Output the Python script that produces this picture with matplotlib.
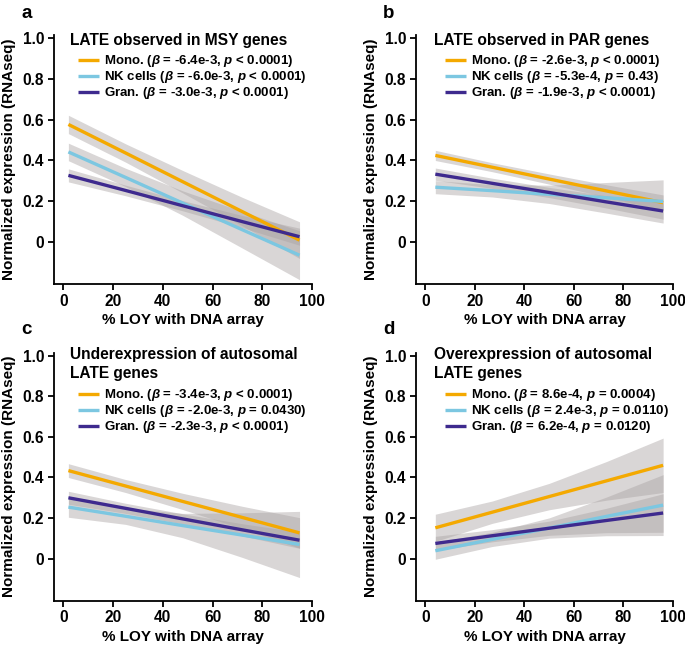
"""
LOY vs normalized expression of LATE genes (4 panels)
"""
# ------------------
# モジュールインポート
# ------------------
import numpy as np
import matplotlib
matplotlib.use("Agg")
from matplotlib import pylab as plt


# ------------------
# データ
# ------------------
# x positions where fit / band values were read (a, c use 2-95 ; b, d use 4-96)
x_ac = [2, 25, 48, 72, 95]
x_bd = [4, 27, 50, 73, 96]

# panel a : LATE observed in MSY genes
a_mono_fit = [0.576, 0.436, 0.295, 0.148, 0.008]
a_mono_lo = [0.531, 0.391, 0.240, 0.078, -0.082]
a_mono_hi = [0.621, 0.481, 0.350, 0.218, 0.098]
a_nk_fit = [0.441, 0.316, 0.190, 0.059, -0.066]
a_nk_lo = [0.398, 0.271, 0.130, -0.031, -0.186]
a_nk_hi = [0.484, 0.361, 0.250, 0.149, 0.054]
a_gran_fit = [0.326, 0.252, 0.177, 0.099, 0.025]
a_gran_lo = [0.294, 0.226, 0.152, 0.069, -0.017]
a_gran_hi = [0.358, 0.278, 0.202, 0.129, 0.067]

# panel b : LATE observed in PAR genes
b_mono_fit = [0.424, 0.366, 0.308, 0.250, 0.192]
b_mono_lo = [0.399, 0.344, 0.283, 0.220, 0.154]
b_mono_hi = [0.449, 0.388, 0.333, 0.280, 0.230]
b_nk_fit = [0.268, 0.251, 0.233, 0.216, 0.198]
b_nk_lo = [0.236, 0.220, 0.188, 0.141, 0.092]
b_nk_hi = [0.300, 0.281, 0.278, 0.291, 0.304]
b_gran_fit = [0.332, 0.287, 0.242, 0.196, 0.151]
b_gran_lo = [0.302, 0.262, 0.217, 0.166, 0.111]
b_gran_hi = [0.362, 0.312, 0.267, 0.226, 0.191]

# panel c : underexpression of autosomal LATE genes
c_mono_fit = [0.434, 0.358, 0.282, 0.203, 0.127]
c_mono_lo = [0.400, 0.326, 0.242, 0.148, 0.052]
c_mono_hi = [0.468, 0.390, 0.322, 0.258, 0.202]
c_nk_fit = [0.254, 0.209, 0.163, 0.116, 0.070]
c_nk_lo = [0.204, 0.169, 0.103, 0.006, -0.093]
c_nk_hi = [0.304, 0.249, 0.223, 0.226, 0.233]
c_gran_fit = [0.300, 0.248, 0.196, 0.142, 0.091]
c_gran_lo = [0.268, 0.223, 0.171, 0.112, 0.051]
c_gran_hi = [0.332, 0.273, 0.221, 0.172, 0.131]

# panel d : overexpression of autosomal LATE genes
d_mono_fit = [0.152, 0.229, 0.306, 0.383, 0.460]
d_mono_lo = [0.085, 0.174, 0.241, 0.288, 0.326]
d_mono_hi = [0.219, 0.284, 0.371, 0.478, 0.594]
d_nk_fit = [0.039, 0.095, 0.151, 0.208, 0.264]
d_nk_lo = [-0.003, 0.060, 0.101, 0.113, 0.114]
d_nk_hi = [0.081, 0.130, 0.201, 0.303, 0.414]
d_gran_fit = [0.075, 0.113, 0.150, 0.188, 0.225]
d_gran_lo = [0.040, 0.083, 0.115, 0.128, 0.130]
d_gran_hi = [0.110, 0.143, 0.185, 0.248, 0.320]

titles = ["LATE observed in MSY genes",
          "LATE observed in PAR genes",
          "Underexpression of autosomal\nLATE genes",
          "Overexpression of autosomal\nLATE genes"]
letters = ["a", "b", "c", "d"]

labels_a = [r"Mono. ($\beta$ = -6.4e-3, $p$ < 0.0001)",
            r"NK cells ($\beta$ = -6.0e-3, $p$ < 0.0001)",
            r"Gran. ($\beta$ = -3.0e-3, $p$ < 0.0001)"]
labels_b = [r"Mono. ($\beta$ = -2.6e-3, $p$ < 0.0001)",
            r"NK cells ($\beta$ = -5.3e-4, $p$ = 0.43)",
            r"Gran. ($\beta$ = -1.9e-3, $p$ < 0.0001)"]
labels_c = [r"Mono. ($\beta$ = -3.4e-3, $p$ < 0.0001)",
            r"NK cells ($\beta$ = -2.0e-3, $p$ = 0.0430)",
            r"Gran. ($\beta$ = -2.3e-3, $p$ < 0.0001)"]
labels_d = [r"Mono. ($\beta$ = 8.6e-4, $p$ = 0.0004)",
            r"NK cells ($\beta$ = 2.4e-3, $p$ = 0.0110)",
            r"Gran. ($\beta$ = 6.2e-4, $p$ = 0.0120)"]

xticks = [0, 20, 40, 60, 80, 100]
yticks = [0, 0.2, 0.4, 0.6, 0.8, 1.0]
ytick_labels = ["0", "0.2", "0.4", "0.6", "0.8", "1.0"]

# ------------------
# スタイル
# ------------------
plt.rcParams["font.family"] = ["Liberation Sans", "DejaVu Sans"]
plt.rcParams["font.weight"] = "bold"
plt.rcParams["mathtext.fontset"] = "custom"
plt.rcParams["mathtext.rm"] = "Liberation Sans:bold"
plt.rcParams["mathtext.it"] = "Liberation Sans:italic:bold"
plt.rcParams["mathtext.bf"] = "Liberation Sans:bold"

colors = ["#F4A900", "#7CC7E1", "#3E2A8E"]
band_color = "#A9A2A2"


# ------------------
# 関数の定義
# ------------------
def draw_panel(ax, x, fits, los, his, labels):
	for lo, hi in zip(los, his):
		ax.fill_between(x, lo, hi, color=band_color, alpha=0.44, lw=0)
	for fit, col, lab in zip(fits, colors, labels):
		ax.plot(x, fit, color=col, lw=2.4, label=lab, solid_capstyle="butt")
	ax.set_xlim(-3.8, 100)
	ax.set_ylim(-0.207, 1.015)
	ax.set_xticks(xticks)
	ax.set_yticks(yticks)
	ax.set_yticklabels(ytick_labels)
	ax.tick_params(labelsize=11.2, width=1.3, length=4, pad=3)
	for s in ["top", "right"]:
		ax.spines[s].set_visible(False)
	for s in ["left", "bottom"]:
		ax.spines[s].set_linewidth(1.3)
	ax.set_xlabel("% LOY with DNA array", fontsize=11, fontweight="bold", labelpad=3)
	ax.set_ylabel("Normalized expression (RNAseq)", fontsize=11,
	              fontweight="bold", labelpad=5)


# ------------------
# メイン処理
# ------------------
def main():
	fig = plt.figure(figsize=(6.85, 6.47), dpi=100)
	pos = [[0.0788, 0.5611, 0.3766, 0.3848],
	       [0.6073, 0.5611, 0.3752, 0.3848],
	       [0.0788, 0.0716, 0.3766, 0.3833],
	       [0.6073, 0.0716, 0.3752, 0.3833]]
	axes = [fig.add_axes(p) for p in pos]

	draw_panel(axes[0], x_ac, [a_mono_fit, a_nk_fit, a_gran_fit],
	           [a_mono_lo, a_nk_lo, a_gran_lo], [a_mono_hi, a_nk_hi, a_gran_hi], labels_a)
	draw_panel(axes[1], x_bd, [b_mono_fit, b_nk_fit, b_gran_fit],
	           [b_mono_lo, b_nk_lo, b_gran_lo], [b_mono_hi, b_nk_hi, b_gran_hi], labels_b)
	draw_panel(axes[2], x_ac, [c_mono_fit, c_nk_fit, c_gran_fit],
	           [c_mono_lo, c_nk_lo, c_gran_lo], [c_mono_hi, c_nk_hi, c_gran_hi], labels_c)
	draw_panel(axes[3], x_bd, [d_mono_fit, d_nk_fit, d_gran_fit],
	           [d_mono_lo, d_nk_lo, d_gran_lo], [d_mono_hi, d_nk_hi, d_gran_hi], labels_d)

	# title / legend positions (axes coords)
	title_xy = [(0.062, 1.010), (0.071, 1.010), (0.062, 1.023), (0.071, 1.023)]
	leg_xy = [(0.093, 0.927), (0.113, 0.927), (0.093, 0.861), (0.113, 0.861)]
	for ax, t, txy, lxy in zip(axes, titles, title_xy, leg_xy):
		ax.text(txy[0], txy[1], t, transform=ax.transAxes, ha="left", va="top",
		        fontsize=11.2, fontweight="bold", linespacing=1.32)
		ax.legend(loc="upper left", bbox_to_anchor=lxy, frameon=False,
		          prop={"size": 9.5, "weight": "bold"}, handlelength=1.6,
		          handletextpad=0.4, labelspacing=0.0, borderpad=0,
		          borderaxespad=0)

	# panel letters
	letter_xy = [(21, 13), (383, 13), (21, 330), (383, 330)]
	for l, (px, py) in zip(letters, letter_xy):
		fig.text(px / 685, 1 - py / 647, l, fontsize=13.5, fontweight="bold",
		         ha="left", va="center")

	fig.savefig("out.png", dpi=100)
	plt.close()


if __name__=="__main__":
	main()
